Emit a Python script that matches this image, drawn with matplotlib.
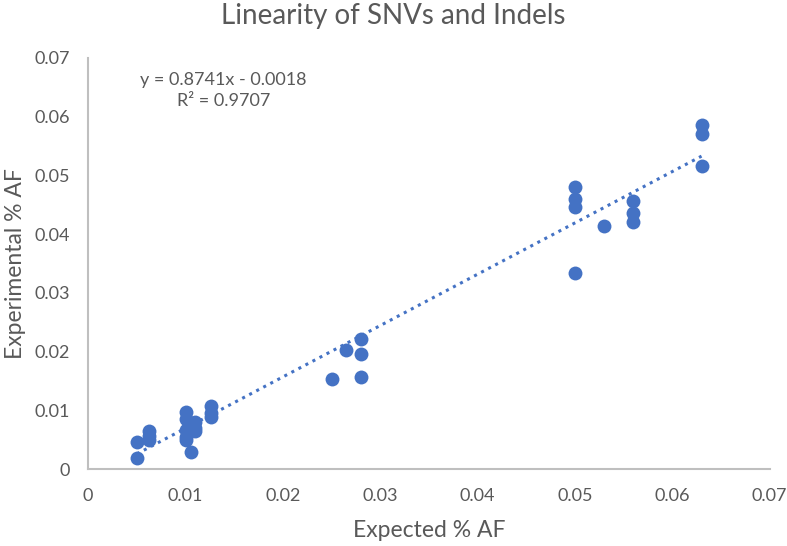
import numpy as np
import matplotlib.pyplot as plt

plt.rcParams['font.family'] = ['Lato', 'DejaVu Sans']

expected = [0.005, 0.005, 0.0063, 0.0063, 0.0063,
            0.010, 0.010, 0.010, 0.010, 0.010, 0.0106,
            0.011, 0.011, 0.011, 0.0126, 0.0126, 0.0126,
            0.025, 0.0265, 0.028, 0.028, 0.028,
            0.050, 0.050, 0.050, 0.050, 0.053,
            0.056, 0.056, 0.056, 0.063, 0.063, 0.063]
experimental = [0.0019, 0.0046, 0.0064, 0.0057, 0.0049,
                0.0097, 0.0086, 0.0066, 0.0055, 0.0050, 0.0029,
                0.0080, 0.0070, 0.0064, 0.0108, 0.0095, 0.0089,
                0.0153, 0.0203, 0.0222, 0.0196, 0.0156,
                0.0481, 0.0460, 0.0446, 0.0334, 0.0413,
                0.0457, 0.0436, 0.0421, 0.0586, 0.0570, 0.0516]

slope, intercept = 0.8741, -0.0018
equation = 'y = 0.8741x - 0.0018\nR² = 0.9707'

blue = '#4472C4'
grey = '#595959'

fig = plt.figure(figsize=(7.87, 5.46), dpi=100)
ax = fig.add_axes([0.112, 0.141, 0.866, 0.753])

ax.scatter(expected, experimental, s=100, color=blue, zorder=3, linewidths=0)

xs = np.array([min(expected), max(expected)])
ax.plot(xs, slope * xs + intercept, color=blue, linestyle=(0, (1, 1.6)), linewidth=2.2, zorder=2)

ax.text(0.0139, 0.0644, equation, ha='center', va='center', fontsize=13,
        color=grey, linespacing=1.35)

ax.set_xlim(0, 0.07)
ax.set_ylim(0, 0.07)
ticks = [0, 0.01, 0.02, 0.03, 0.04, 0.05, 0.06, 0.07]
ax.set_xticks(ticks)
ax.set_yticks(ticks)
ax.set_xticklabels(['0'] + [f'{t:.2f}' for t in ticks[1:]])
ax.set_yticklabels(['0'] + [f'{t:.2f}' for t in ticks[1:]])
ax.tick_params(length=0, labelsize=13, labelcolor=grey)
ax.tick_params(axis='y', pad=13)
ax.tick_params(axis='x', pad=14)

for side in ['top', 'right']:
    ax.spines[side].set_visible(False)
for side in ['left', 'bottom']:
    ax.spines[side].set_color('#BFBFBF')
    ax.spines[side].set_linewidth(1.5)

ax.set_xlabel('Expected % AF', fontsize=16.5, color=grey, labelpad=11)
ax.set_ylabel('Experimental % AF', fontsize=16.5, color=grey, labelpad=6)
fig.suptitle('Linearity of SNVs and Indels', fontsize=20, color=grey, y=0.995)

fig.savefig('out.png', dpi=100)
